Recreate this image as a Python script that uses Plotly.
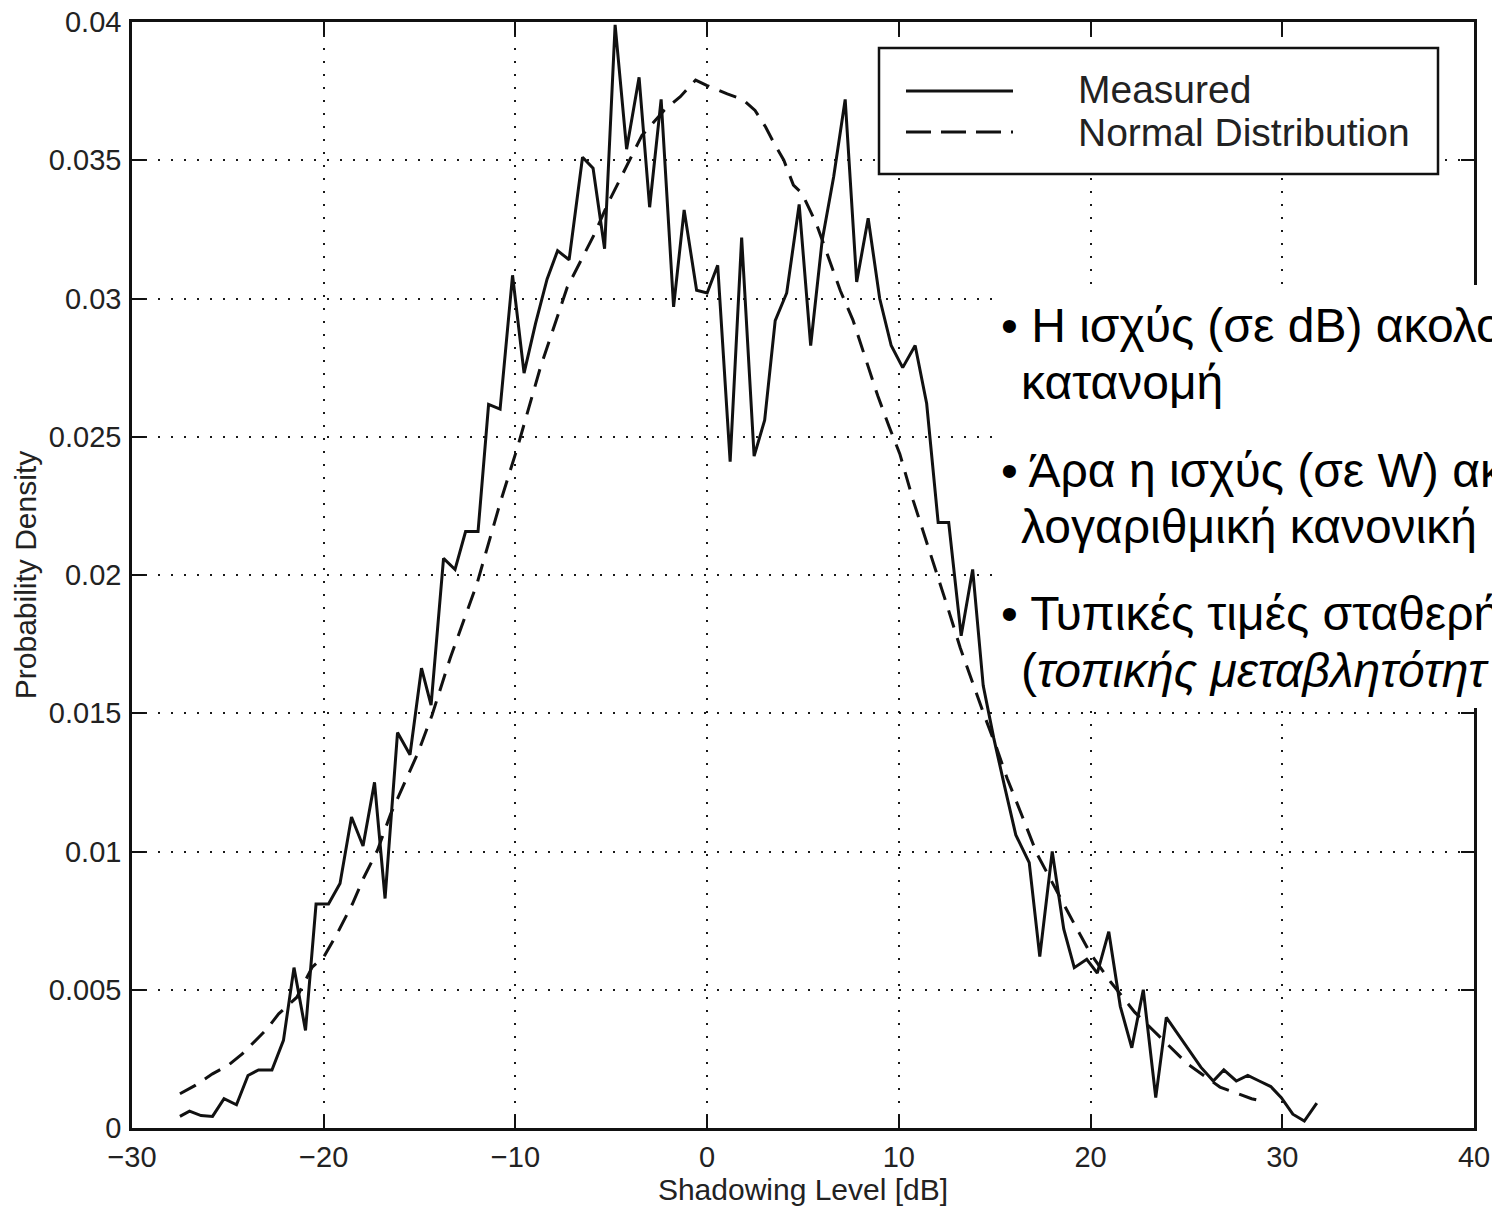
import plotly.graph_objects as go

# Shadowing level histogram (measured) and the fitted normal curve
measured_db = [-27.5, -27.0, -26.4, -25.8, -25.2, -24.55, -23.95, -23.4, -22.7, -22.1,
               -21.55, -20.95, -20.4, -19.75, -19.15, -18.55, -17.95, -17.35, -16.8, -16.15,
               -15.5, -14.9, -14.4, -13.75, -13.15, -12.6, -11.95, -11.4, -10.8, -10.15,
               -9.55, -8.95, -8.35, -7.8, -7.2, -6.5, -5.95, -5.35, -4.8, -4.2,
               -3.55, -3.0, -2.4, -1.75, -1.2, -0.55, 0.0, 0.55, 1.2, 1.8,
               2.45, 3.0, 3.55, 4.15, 4.8, 5.4, 6.0, 6.6, 7.2, 7.8,
               8.4, 9.0, 9.6, 10.2, 10.85, 11.45, 12.05, 12.6, 13.25, 13.85,
               14.4, 14.95, 15.5, 16.1, 16.8, 17.35, 18.0, 18.6, 19.15, 19.8,
               20.35, 20.95, 21.55, 22.15, 22.75, 23.4, 23.95, 24.55, 25.15, 25.75,
               26.4, 26.95, 27.6, 28.2, 28.8, 29.4, 29.95, 30.55, 31.15, 31.8]
measured_pdf = [0.00042, 0.00061, 0.00045, 0.00042, 0.00106, 0.00084, 0.0019, 0.0021, 0.0021, 0.00317,
                0.0058, 0.00353, 0.0081, 0.0081, 0.00884, 0.01125, 0.0102, 0.0125, 0.0083, 0.0143,
                0.0135, 0.01663, 0.01529, 0.0206, 0.0202, 0.02157, 0.02157, 0.02617, 0.0260, 0.03084,
                0.0273, 0.0291, 0.0307, 0.03173, 0.0314, 0.03511, 0.03471, 0.0318, 0.0399, 0.0354,
                0.0380, 0.0333, 0.0372, 0.0297, 0.0332, 0.0303, 0.0302, 0.0312, 0.0241, 0.0322,
                0.0243, 0.0256, 0.0292, 0.0302, 0.0334, 0.0283, 0.0321, 0.0344, 0.0372, 0.0306,
                0.0329, 0.0300, 0.0283, 0.0275, 0.0283, 0.0262, 0.0219, 0.0219, 0.0178, 0.0202,
                0.0160, 0.0141, 0.0124, 0.0106, 0.0096, 0.0062, 0.0100, 0.0072, 0.0058, 0.0061,
                0.0056, 0.0071, 0.0044, 0.0029, 0.0050, 0.0011, 0.0040, 0.0034, 0.0028, 0.0022,
                0.0017, 0.0021, 0.0017, 0.0019, 0.0017, 0.0015, 0.0011, 0.0005, 0.00025, 0.0009]

normal_db = [-27.5, -26.7, -25.8, -25.0, -24.25, -23.65, -22.95, -22.35, -21.4, -20.6,
             -20.0, -19.3, -18.5, -17.9, -17.2, -16.5, -15.8, -15.1, -14.35, -13.4,
             -12.0, -10.8, -9.9, -8.7, -7.3, -5.9, -5.2, -4.25, -3.4, -2.25,
             -1.4, -0.6, 0.0, 1.05, 1.85, 2.5, 3.05, 3.5, 4.0, 4.5,
             4.95, 5.7, 6.25, 6.95, 7.6, 8.3, 8.9, 9.5, 10.05, 10.75,
             11.35, 11.95, 12.55, 13.2, 13.8, 14.4, 15.1, 15.65, 16.45, 17.2,
             19.05, 20.0, 21.05, 22.3, 25.05, 26.75, 28.4, 29.1]
normal_pdf = [0.00124, 0.00154, 0.00196, 0.00226, 0.00268, 0.0031, 0.00359, 0.00413, 0.00473, 0.00582,
              0.00618, 0.00703, 0.00811, 0.00907, 0.01004, 0.01137, 0.01245, 0.01354, 0.01493, 0.0170,
              0.0197, 0.0226, 0.0246, 0.0275, 0.0304, 0.0323, 0.0334, 0.0347, 0.0359, 0.0368,
              0.0373, 0.0379, 0.0377, 0.0374, 0.0372, 0.0368, 0.0362, 0.0356, 0.0350, 0.0341,
              0.0338, 0.0327, 0.03165, 0.03028, 0.02923, 0.02777, 0.02648, 0.02535, 0.02438, 0.02269,
              0.0214, 0.02019, 0.01882, 0.01737, 0.01616, 0.01503, 0.01374, 0.01264, 0.01125, 0.00992,
              0.00751, 0.0063, 0.00528, 0.00419, 0.00232, 0.00148, 0.00106, 0.00095]

series_names = ["Measured", "Normal Distribution"]

# note lines on the white panel: (text, baseline y px, left x px)
notes = [
    ("• Η ισχύς (σε dB) ακολο", 343, 999),
    ("κατανομή", 399, 1019),
    ("• Άρα η ισχύς (σε W) ακ", 487, 999),
    ("λογαριθμική κανονική", 543, 1019),
    ("• Τυπικές τιμές σταθερή", 630, 999),
    ("(<i>τοπικής μεταβλητότητ</i>", 687, 1019),
]

W, H = 1492, 1208
ML, MR, MT, MB = 132, 18, 22, 80
PW, PH = W - ML - MR, H - MT - MB
FONT = "Liberation Sans, Arial, Helvetica, sans-serif"
INK = "#111111"


def px_x(x):
    return (x - ML) / PW


def px_y(y):
    return (H - MB - y) / PH


fig = go.Figure()
fig.add_trace(go.Scatter(x=measured_db, y=measured_pdf, mode="lines", name=series_names[0],
                         line=dict(color=INK, width=3)))
fig.add_trace(go.Scatter(x=normal_db, y=normal_pdf, mode="lines", name=series_names[1],
                         line=dict(color=INK, width=3, dash="18px,11px")))

axis_common = dict(
    automargin=False,
    showline=True, linecolor=INK, linewidth=2.5, mirror="ticks",
    ticks="inside", ticklen=13, tickwidth=2.2, tickcolor=INK,
    showgrid=True, gridcolor="rgba(0,0,0,0.9)", gridwidth=2, griddash="2px,11px",
    zeroline=False,
    tickfont=dict(family=FONT, size=29, color="#222222"),
    title_font=dict(family=FONT, size=30, color="#222222"),
)

fig.update_xaxes(range=[-30, 40], tickmode="linear", tick0=-30, dtick=10,
                 title_text="Shadowing Level [dB]", title_standoff=8,
                 ticklabelstandoff=1, **axis_common)
fig.update_yaxes(range=[0, 0.04], tickmode="linear", tick0=0, dtick=0.005,
                 title_text="Probability Density", title_standoff=4,
                 ticklabelstandoff=2, **axis_common)

shapes = []
# legend frame and line samples
shapes.append(dict(type="rect", xref="paper", yref="paper",
                   x0=px_x(879), x1=px_x(1438), y0=px_y(174), y1=px_y(48),
                   fillcolor="white", line=dict(color=INK, width=2.5), layer="above"))
shapes.append(dict(type="line", xref="paper", yref="paper",
                   x0=px_x(906), x1=px_x(1013), y0=px_y(91), y1=px_y(91),
                   line=dict(color=INK, width=3), layer="above"))
shapes.append(dict(type="line", xref="paper", yref="paper",
                   x0=px_x(906), x1=px_x(1013), y0=px_y(132), y1=px_y(132),
                   line=dict(color=INK, width=3, dash="25px,10px"), layer="above"))
# white note panel laid over the right side
shapes.append(dict(type="rect", xref="paper", yref="paper",
                   x0=px_x(1000), x1=px_x(1530), y0=px_y(708), y1=px_y(285),
                   fillcolor="white", line=dict(width=0), layer="above"))

annotations = [
    dict(text=series_names[0], xref="paper", yref="paper", x=px_x(1076), y=px_y(89),
         xanchor="left", yanchor="middle", showarrow=False,
         font=dict(family=FONT, size=39, color="#222222")),
    dict(text=series_names[1], xref="paper", yref="paper", x=px_x(1076), y=px_y(132),
         xanchor="left", yanchor="middle", showarrow=False,
         font=dict(family=FONT, size=39, color="#222222")),
]
for text, baseline, left in notes:
    annotations.append(dict(text=text, xref="paper", yref="paper",
                            x=px_x(left), y=px_y(baseline - 17),
                            xanchor="left", yanchor="middle", showarrow=False,
                            font=dict(family=FONT, size=48, color="black")))

fig.update_layout(
    width=W, height=H, autosize=False,
    margin=dict(l=ML, r=MR, t=MT, b=MB, pad=0),
    paper_bgcolor="white", plot_bgcolor="white",
    showlegend=False,
    shapes=shapes, annotations=annotations,
)

fig.write_html("out.html")
